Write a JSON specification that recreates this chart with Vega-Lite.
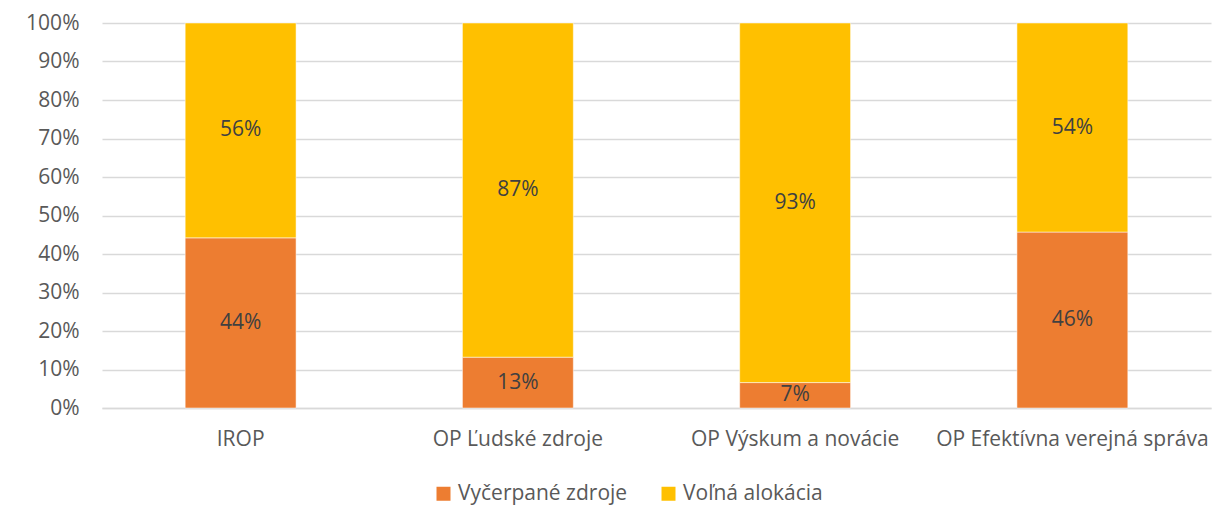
{
  "$schema": "https://vega.github.io/schema/vega-lite/v6.json",
  "width": 1109,
  "height": 385,
  "autosize": {"type": "none"},
  "padding": {"left": 102, "top": 23, "right": 14, "bottom": 117},
  "background": "white",
  "config": {
    "font": "Open Sans",
    "view": {"stroke": null},
    "axisY": {
      "title": null,
      "format": ".0%",
      "values": [0, 0.1, 0.2, 0.3, 0.4, 0.5, 0.6, 0.7, 0.8, 0.9, 1],
      "labelFontSize": 21,
      "labelColor": "#595959",
      "labelPadding": 23,
      "labelOverlap": false,
      "labelFlush": false,
      "ticks": false,
      "domain": false,
      "grid": true,
      "gridColor": "#D9D9D9",
      "gridWidth": 1.5
    }
  },
  "data": {
    "values": [
      {"program": "IROP", "series": "Vyčerpané zdroje", "order": 1, "share": 0.442},
      {"program": "IROP", "series": "Voľná alokácia", "order": 2, "share": 0.558},
      {"program": "OP Ľudské zdroje", "series": "Vyčerpané zdroje", "order": 1, "share": 0.132},
      {"program": "OP Ľudské zdroje", "series": "Voľná alokácia", "order": 2, "share": 0.868},
      {"program": "OP Výskum a novácie", "series": "Vyčerpané zdroje", "order": 1, "share": 0.066},
      {"program": "OP Výskum a novácie", "series": "Voľná alokácia", "order": 2, "share": 0.934},
      {"program": "OP Efektívna verejná správa", "series": "Vyčerpané zdroje", "order": 1, "share": 0.457},
      {"program": "OP Efektívna verejná správa", "series": "Voľná alokácia", "order": 2, "share": 0.543}
    ]
  },
  "transform": [
    {"stack": "share", "groupby": ["program"], "sort": [{"field": "order", "order": "ascending"}], "as": ["y0", "y1"]},
    {"calculate": "(datum.y0 + datum.y1) / 2", "as": "ymid"}
  ],
  "encoding": {
    "x": {
      "field": "program",
      "type": "nominal",
      "sort": ["IROP", "OP Ľudské zdroje", "OP Výskum a novácie", "OP Efektívna verejná správa"],
      "scale": {"paddingInner": 0.6, "paddingOuter": 0.3},
      "axis": {
        "title": null,
        "labelAngle": 0,
        "labelFontSize": 21,
        "labelColor": "#595959",
        "labelPadding": 20,
        "labelLimit": 0,
        "labelOverlap": false,
        "ticks": false,
        "domainColor": "#D9D9D9",
        "domainWidth": 1.5
      }
    }
  },
  "layer": [
    {
      "mark": {"type": "bar", "stroke": "white", "strokeWidth": 0.5},
      "encoding": {
        "y": {
          "field": "y0",
          "type": "quantitative",
          "title": null,
          "scale": {"domain": [0, 1], "nice": false}
        },
        "y2": {"field": "y1"},
        "color": {
          "field": "series",
          "type": "nominal",
          "sort": ["Vyčerpané zdroje", "Voľná alokácia"],
          "scale": {"domain": ["Vyčerpané zdroje", "Voľná alokácia"], "range": ["#ED7D31", "#FFC000"]},
          "legend": {
            "title": null,
            "orient": "none",
            "direction": "horizontal",
            "legendX": 331,
            "legendY": 460,
            "symbolType": "square",
            "symbolSize": 196,
            "symbolStrokeWidth": 0,
            "labelFontSize": 21,
            "labelColor": "#595959",
            "labelOffset": 4,
            "labelLimit": 0,
            "columnPadding": 30
          }
        }
      }
    },
    {
      "mark": {"type": "text", "fontSize": 21, "color": "#404040", "baseline": "middle", "align": "center"},
      "encoding": {
        "y": {"field": "ymid", "type": "quantitative", "title": null},
        "text": {"field": "share", "type": "quantitative", "format": ".0%"}
      }
    }
  ]
}
